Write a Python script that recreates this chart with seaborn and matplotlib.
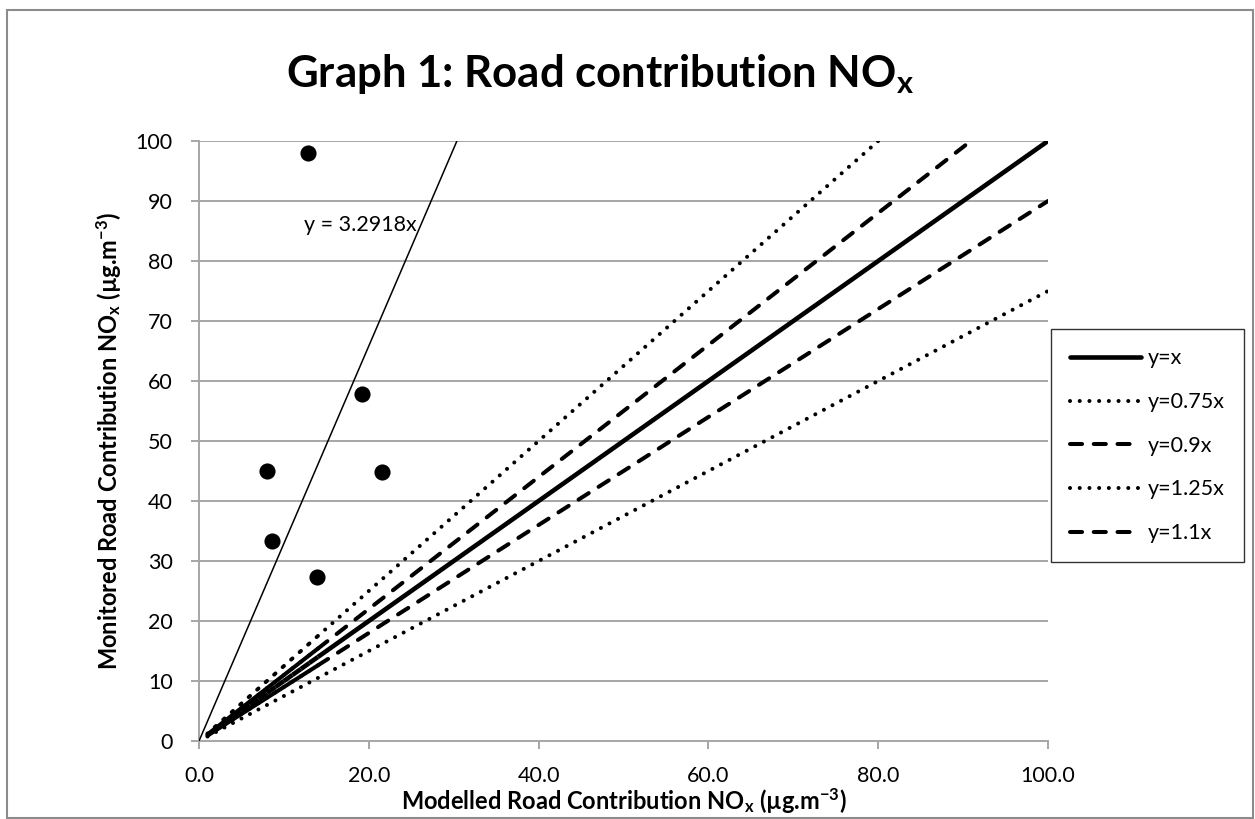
import numpy as np
import pandas as pd
import matplotlib
matplotlib.use("Agg")
import matplotlib.pyplot as plt
import seaborn as sns
from matplotlib.lines import Line2D
from matplotlib.patches import Rectangle

# ---------------- data ----------------
modelled = [12.8, 19.2, 8.0, 21.6, 8.6, 13.9]
monitored = [98.0, 57.9, 45.0, 44.8, 33.4, 27.4]
trend_slope = 3.2918
trend_label = "y = 3.2918x"
ref_ratios = [1.0, 0.75, 0.9, 1.25, 1.1]
ref_labels = ["y=x", "y=0.75x", "y=0.9x", "y=1.25x", "y=1.1x"]
ref_x = [1, 2, 3, 4, 5, 6, 7, 8, 9, 10, 11, 12, 13, 14, 100]
x_ticks = [0, 20, 40, 60, 80, 100]
x_tick_labels = ["0.0", "20.0", "40.0", "60.0", "80.0", "100.0"]
y_ticks = [0, 10, 20, 30, 40, 50, 60, 70, 80, 90, 100]
title = "Graph 1: Road contribution NO$_\\mathbf{x}$"
xlabel = "Modelled Road Contribution NO$_\\mathbf{x}$ (µg.m$^{\\mathbf{-3}}$)"
ylabel = "Monitored Road Contribution NO$_\\mathbf{x}$ (µg.m$^{\\mathbf{-3}}$)"

# ---------------- style ----------------
sns.set_theme(style="white")
plt.rcParams["font.family"] = ["Lato", "DejaVu Sans"]
plt.rcParams["mathtext.fontset"] = "custom"
plt.rcParams["mathtext.rm"] = "Lato"
plt.rcParams["mathtext.bf"] = "Lato:bold"
plt.rcParams["mathtext.it"] = "Lato:italic"
plt.rcParams["text.color"] = "black"
plt.rcParams["axes.labelcolor"] = "black"
plt.rcParams["xtick.color"] = "black"
plt.rcParams["ytick.color"] = "black"

W, H = 1255, 819
fig = plt.figure(figsize=(W / 100, H / 100), dpi=100)
fig.patch.set_facecolor("white")

# chart border
fig.patches.append(Rectangle((7 / W, 1 / H), (1253 - 7) / W, (H - 10 - 1) / H,
                             transform=fig.transFigure, fill=False,
                             edgecolor="#8c8c8c", lw=1.5))

ax = fig.add_axes([199 / W, (H - 741) / H, (1048 - 199) / W, 600 / H])
ax.set_xlim(0, 100)
ax.set_ylim(0, 100)

grid_c = "#a6a6a6"
for yt in y_ticks[1:]:
    ax.axhline(yt, color=grid_c, lw=1.4, zorder=0)

styles = {
    1.0: dict(lw=3.3, linestyle="-"),
    0.75: dict(lw=2.9, linestyle=(0, (0.01, 2.4))),
    0.9: dict(lw=2.9, linestyle=(0, (3.0, 2.9))),
    1.25: dict(lw=2.9, linestyle=(0, (0.01, 2.4))),
    1.1: dict(lw=2.9, linestyle=(0, (3.0, 2.9))),
}

handles = []
for k, lab in zip(ref_ratios, ref_labels):
    rows = []
    for i in range(len(ref_x) - 1):
        rows.append((i, ref_x[i], k * ref_x[i]))
        rows.append((i, ref_x[i + 1], k * ref_x[i + 1]))
    df = pd.DataFrame(rows, columns=["seg", "x", "y"])
    st = styles[k]
    sns.lineplot(data=df, x="x", y="y", units="seg", estimator=None, ax=ax,
                 color="black", lw=st["lw"], linestyle=st["linestyle"],
                 dash_capstyle="round", solid_capstyle="butt", legend=False,
                 zorder=3)
    handles.append(Line2D([], [], color="black", lw=st["lw"],
                          linestyle=st["linestyle"], dash_capstyle="round",
                          label=lab))

# trendline
tx = [0, 100]
tdf = pd.DataFrame({"x": tx, "y": [trend_slope * v for v in tx]})
sns.lineplot(data=tdf, x="x", y="y", ax=ax, color="black", lw=1.1, zorder=3)
ax.text(19.0, 86.0, trend_label, ha="center", va="center", fontsize=15.5,
        color="black")

# points
sns.scatterplot(x=modelled, y=monitored, ax=ax, s=135, color="black",
                edgecolor="black", linewidth=0, zorder=5)

# axes cosmetics
for side in ["top", "right"]:
    ax.spines[side].set_visible(False)
for side in ["left", "bottom"]:
    ax.spines[side].set_color(grid_c)
    ax.spines[side].set_linewidth(1.4)
ax.set_xticks(x_ticks)
ax.set_xticklabels(x_tick_labels)
ax.set_yticks(y_ticks)
ax.tick_params(axis="both", direction="out", length=6, width=1.4, color=grid_c,
               labelsize=15.5, labelcolor="black")
ax.tick_params(axis="y", pad=13, left=True)
ax.tick_params(axis="x", pad=12, bottom=True)
ax.set_xlabel(xlabel, fontsize=17, fontweight="bold", labelpad=0, color="black")
ax.set_ylabel(ylabel, fontsize=17, fontweight="bold", labelpad=9, color="black")

fig.text(600 / W, 1 - 74 / H, title, ha="center", va="center", fontsize=31.5,
         fontweight="bold", color="black")

leg = fig.legend(handles=handles, loc="upper left",
                 bbox_to_anchor=(1051 / W, 1 - 329 / H),
                 bbox_transform=fig.transFigure, frameon=True, fancybox=False,
                 fontsize=15.5, handlelength=3.3, handletextpad=0.3,
                 labelspacing=1.1, borderpad=0.9, borderaxespad=0)
leg.get_frame().set_edgecolor("black")
leg.get_frame().set_linewidth(1.0)
for t in leg.get_texts():
    t.set_color("black")

fig.savefig("out.png", dpi=100)
